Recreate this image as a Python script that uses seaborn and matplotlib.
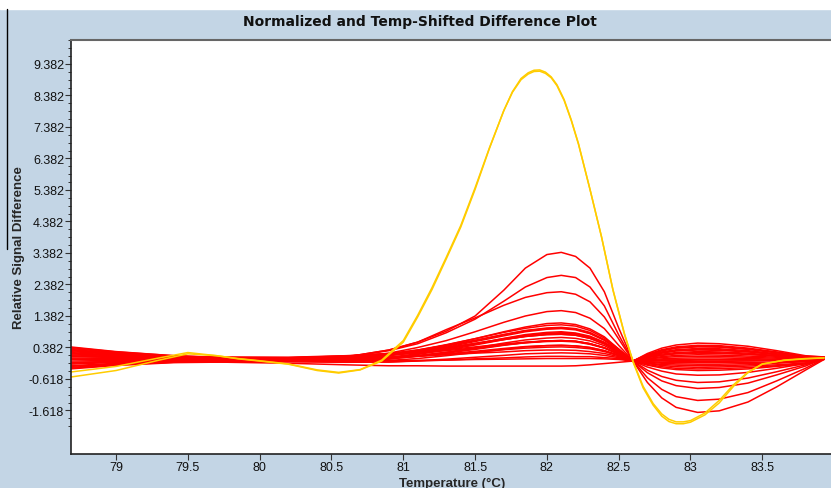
import matplotlib
matplotlib.use('Agg')
import matplotlib.pyplot as plt
import matplotlib.ticker as mticker
from matplotlib.lines import Line2D
from matplotlib.patches import Rectangle
import numpy as np
import pandas as pd
import seaborn as sns

# temperature grid for the red traces
temps = [78.68, 79.0, 79.4, 79.8, 80.2, 80.6, 80.9, 81.1, 81.3, 81.5, 81.7, 81.85,
         82.0, 82.1, 82.2, 82.3, 82.4, 82.5, 82.6, 82.7, 82.8, 82.9, 83.05, 83.2,
         83.4, 83.6, 83.8, 83.93]

red_curves = [
    [.30, .18, .09, .04, .02, .08, .30, .55, .90, 1.38, 2.20, 2.90, 3.33, 3.40, 3.27, 2.90, 2.15, 1.00, -.05,
     -.73, -1.22, -1.52, -1.68, -1.63, -1.35, -.87, -.34, .00],
    [.20, .12, .06, .03, .02, .07, .28, .50, .85, 1.28, 1.85, 2.30, 2.60, 2.67, 2.60, 2.30, 1.70, .78, -.05,
     -.58, -.95, -1.18, -1.30, -1.26, -1.05, -.68, -.28, .02],
    [.10, .07, .04, .02, .02, .08, .30, .55, .95, 1.32, 1.72, 1.97, 2.12, 2.15, 2.07, 1.83, 1.35, .65, -.05,
     -.42, -.68, -.83, -.92, -.89, -.75, -.49, -.21, .03],
    [-.10, -.06, -.02, .00, .02, .06, .20, .38, .60, .88, 1.18, 1.38, 1.52, 1.55, 1.49, 1.31, .98, .45, -.05,
     -.34, -.54, -.66, -.73, -.71, -.59, -.39, -.17, .03],
    [.35, .22, .10, .05, .03, .05, .15, .28, .46, .66, .88, 1.03, 1.14, 1.16, 1.11, .97, .72, .33, -.05,
     -.24, -.37, -.46, -.50, -.49, -.41, -.28, -.13, .04],
    [.28, .17, .09, .05, .03, .08, .18, .30, .47, .66, .86, .99, 1.08, 1.10, 1.06, .92, .68, .33, -.05,
     .19, .36, .46, .52, .50, .42, .28, .12, .08],
    [.25, .16, .08, .03, .01, .06, .14, .26, .42, .60, .79, .92, 1.00, 1.02, .98, .86, .63, .31, -.05,
     .14, .27, .36, .40, .39, .32, .21, .09, .07],
    [-.20, -.12, -.06, -.02, .00, .04, .12, .24, .39, .57, .75, .88, .96, .98, .94, .82, .61, .29, -.05,
     .10, .20, .27, .30, .29, .24, .15, .06, .06],
    [.15, .09, .05, .05, .05, .11, .19, .30, .45, .61, .79, .91, .98, 1.00, .96, .83, .62, .30, -.05,
     .15, .29, .37, .42, .41, .34, .22, .09, .08],
    [-.10, -.06, -.03, -.03, -.02, .00, .07, .18, .33, .49, .67, .79, .86, .88, .84, .74, .55, .27, -.05,
     .06, .14, .19, .22, .21, .17, .11, .03, .05],
    [-.05, -.03, -.02, -.03, -.03, -.01, .06, .16, .30, .46, .63, .74, .81, .83, .80, .70, .52, .25, -.05,
     .03, .09, .13, .15, .14, .11, .07, .01, .05],
    [.38, .24, .12, .05, .02, .06, .13, .23, .36, .51, .66, .77, .83, .85, .82, .71, .53, .26, -.05,
     .12, .24, .31, .35, .34, .28, .18, .07, .07],
    [.12, .07, .04, .04, .04, .08, .15, .24, .36, .49, .63, .73, .79, .80, .77, .67, .50, .24, -.05,
     .16, .31, .40, .45, .44, .36, .24, .10, .08],
    [-.28, -.17, -.09, -.06, -.05, -.04, .01, .11, .23, .37, .52, .62, .68, .70, .67, .59, .44, .21, -.05,
     -.05, -.05, -.06, -.06, -.06, -.05, -.03, -.01, .03],
    [.22, .14, .07, .06, .06, .11, .18, .27, .38, .51, .64, .73, .79, .80, .77, .67, .49, .24, -.05,
     .08, .17, .22, .25, .24, .20, .12, .04, .06],
    [-.25, -.16, -.08, -.05, -.04, -.02, .02, .10, .20, .32, .45, .53, .59, .60, .57, .50, .37, .18, -.05,
     -.04, -.03, -.03, -.02, -.02, -.02, -.02, -.02, .03],
    [.00, .00, .00, -.01, -.01, .01, .05, .13, .23, .34, .46, .54, .59, .60, .58, .50, .37, .18, -.05,
     -.01, .02, .04, .05, .05, .03, .01, -.02, .04],
    [.02, .01, .01, .03, .05, .09, .14, .20, .28, .37, .47, .53, .57, .58, .56, .48, .36, .17, -.05,
     .11, .22, .28, .32, .31, .25, .16, .06, .07],
    [-.15, -.09, -.05, -.06, -.06, -.06, -.03, .03, .12, .22, .32, .40, .44, .45, .43, .38, .28, .13, -.05,
     -.09, -.12, -.14, -.15, -.15, -.13, -.10, -.07, .02],
    [.32, .20, .10, .08, .07, .12, .18, .24, .31, .40, .49, .55, .59, .60, .58, .50, .37, .18, -.05,
     .06, .13, .18, .20, .19, .16, .10, .03, .06],
    [.40, .25, .12, .04, .01, .02, .05, .11, .18, .26, .35, .41, .44, .45, .43, .38, .28, .14, -.05,
     -.16, -.23, -.28, -.30, -.29, -.26, -.20, -.12, .01],
    [.10, .06, .03, .01, .00, .02, .05, .10, .16, .23, .31, .36, .39, .40, .38, .34, .25, .12, -.05,
     -.13, -.19, -.23, -.25, -.24, -.21, -.17, -.11, .01],
    [-.30, -.19, -.10, -.08, -.07, -.09, -.08, -.04, .01, .07, .13, .18, .20, .21, .20, .18, .13, .06, -.05,
     .01, .06, .09, .10, .10, .07, .04, .00, .04],
    [.05, .03, .02, .03, .03, .05, .08, .11, .15, .20, .24, .28, .30, .30, .29, .25, .19, .09, -.05,
     -.18, -.27, -.32, -.35, -.34, -.30, -.22, -.14, .00],
    [-.22, -.14, -.07, -.06, -.06, -.08, -.08, -.05, -.02, .02, .05, .08, .10, .10, .09, .09, .06, .03, -.05,
     -.03, -.01, -.01, .00, .00, -.01, -.02, -.04, .03],
    [.18, .11, .05, .00, -.03, -.04, -.04, -.03, -.02, .00, .01, .02, .03, .03, .03, .03, .02, .00, -.05,
     -.07, -.09, -.10, -.10, -.10, -.09, -.08, -.06, .02],
    [-.12, -.08, -.05, -.09, -.12, -.17, -.20, -.20, -.21, -.21, -.21, -.21, -.21, -.21, -.20, -.17, -.13, -.09, -.05,
     -.11, -.16, -.18, -.20, -.20, -.17, -.12, -.06, .02],
]

# the two yellow traces
yellow_temps = [78.68, 79.0, 79.3, 79.5, 79.7, 79.85, 80.0, 80.2, 80.4, 80.55, 80.7, 80.85, 81.0,
                81.1, 81.2, 81.3, 81.4, 81.5, 81.6, 81.7, 81.76, 81.82, 81.87, 81.91, 81.95,
                81.99, 82.03, 82.07, 82.12, 82.17, 82.22, 82.3, 82.38, 82.46, 82.54, 82.6,
                82.67, 82.74, 82.8, 82.85, 82.9, 82.95, 83.0, 83.1, 83.2, 83.3, 83.4, 83.5,
                83.65, 83.8, 83.93]
yellow_1 = [-.40, -.22, .05, .22, .12, .02, -.05, -.15, -.35, -.43, -.33, -.05, .55,
            1.35, 2.22, 3.20, 4.20, 5.40, 6.70, 7.90, 8.50, 8.92, 9.10, 9.18, 9.19,
            9.12, 8.97, 8.72, 8.25, 7.60, 6.85, 5.40, 3.90, 2.20, .80, -.08,
            -.90, -1.45, -1.80, -1.97, -2.04, -2.04, -1.99, -1.76, -1.38, -.85, -.42, -.15,
            -.02, .03, .05]
yellow_2 = [-.56, -.35, -.02, .18, .12, .03, -.04, -.14, -.33, -.41, -.32, -.02, .60,
            1.40, 2.28, 3.25, 4.25, 5.45, 6.72, 7.90, 8.48, 8.88, 9.06, 9.14, 9.15,
            9.08, 8.94, 8.69, 8.22, 7.58, 6.83, 5.40, 3.90, 2.22, .82, -.06,
            -.85, -1.40, -1.73, -1.90, -1.98, -1.98, -1.94, -1.70, -1.30, -.80, -.40, -.14,
            -.03, .02, .05]

y_ticks = [-1.618, -0.618, 0.382, 1.382, 2.382, 3.382, 4.382, 5.382, 6.382, 7.382, 8.382, 9.382]
x_ticks = [79, 79.5, 80, 80.5, 81, 81.5, 82, 82.5, 83, 83.5]
x_labels = ['79', '79.5', '80', '80.5', '81', '81.5', '82', '82.5', '83', '83.5']

rows = []
for i, curve in enumerate(red_curves):
    for t, v in zip(temps, curve):
        rows.append((t, v, 'r%d' % i, 'red'))
for name, curve in (('y1', yellow_1), ('y2', yellow_2)):
    for t, v in zip(yellow_temps, curve):
        rows.append((t, v, name, 'yellow'))
df = pd.DataFrame(rows, columns=['temp', 'diff', 'trace', 'group'])

sns.set_style('white')
plt.rcParams['font.family'] = ['Liberation Sans', 'DejaVu Sans']

bg = '#c3d5e5'
fig = plt.figure(figsize=(8.31, 4.89), dpi=100, facecolor=bg)
fig.add_artist(Rectangle((0, 1 - 10 / 489), 1, 10 / 489, transform=fig.transFigure,
                         color='white', zorder=0))
fig.add_artist(Line2D([7 / 831, 7 / 831], [1 - 10 / 489, 1 - 250 / 489],
                      transform=fig.transFigure, color='black', lw=1))

ax = fig.add_axes([71 / 831, 34 / 489, 1 - 71 / 831 + 0.002, 414 / 489])
sns.lineplot(data=df, x='temp', y='diff', units='trace', estimator=None,
             hue='group', hue_order=['red', 'yellow'],
             palette={'red': '#ff0000', 'yellow': '#ffcc00'},
             lw=1.1, legend=False, sort=False, ax=ax)

ax.set_xlim(78.686, 83.99)
ax.set_ylim(-3.0, 10.14)
ax.set_xticks(x_ticks)
ax.set_xticklabels(x_labels)
ax.set_yticks(y_ticks)
ax.set_yticklabels(['%.3f' % v for v in y_ticks])
ax.yaxis.set_minor_locator(mticker.FixedLocator(np.arange(-2.118, 10.2, 0.25)))
ax.tick_params(axis='both', which='major', direction='out', length=4, width=0.8,
               color='#333333', labelsize=9, labelcolor='#111111', pad=1)
ax.tick_params(axis='y', which='minor', direction='out', length=2.5, width=0.7,
               color='#333333', left=True)
ax.tick_params(axis='x', bottom=True)
ax.tick_params(axis='y', left=True)

for side in ['left', 'bottom']:
    ax.spines[side].set_color('#222222')
    ax.spines[side].set_linewidth(1.2)
ax.spines['top'].set_color('#666666')
ax.spines['top'].set_linewidth(1.5)
ax.spines['right'].set_visible(False)

ax.set_xlabel('Temperature (°C)', fontsize=9.5, fontweight='bold', labelpad=3)
ax.set_ylabel('Relative Signal Difference', fontsize=9.5, fontweight='bold', labelpad=3)
fig.text(420 / 831, 1 - 22 / 489, 'Normalized and Temp-Shifted Difference Plot',
         ha='center', va='center', fontsize=10, fontweight='bold',
         family=['DejaVu Sans'], color='#111111')

fig.savefig('out.png', dpi=100, facecolor=bg)
